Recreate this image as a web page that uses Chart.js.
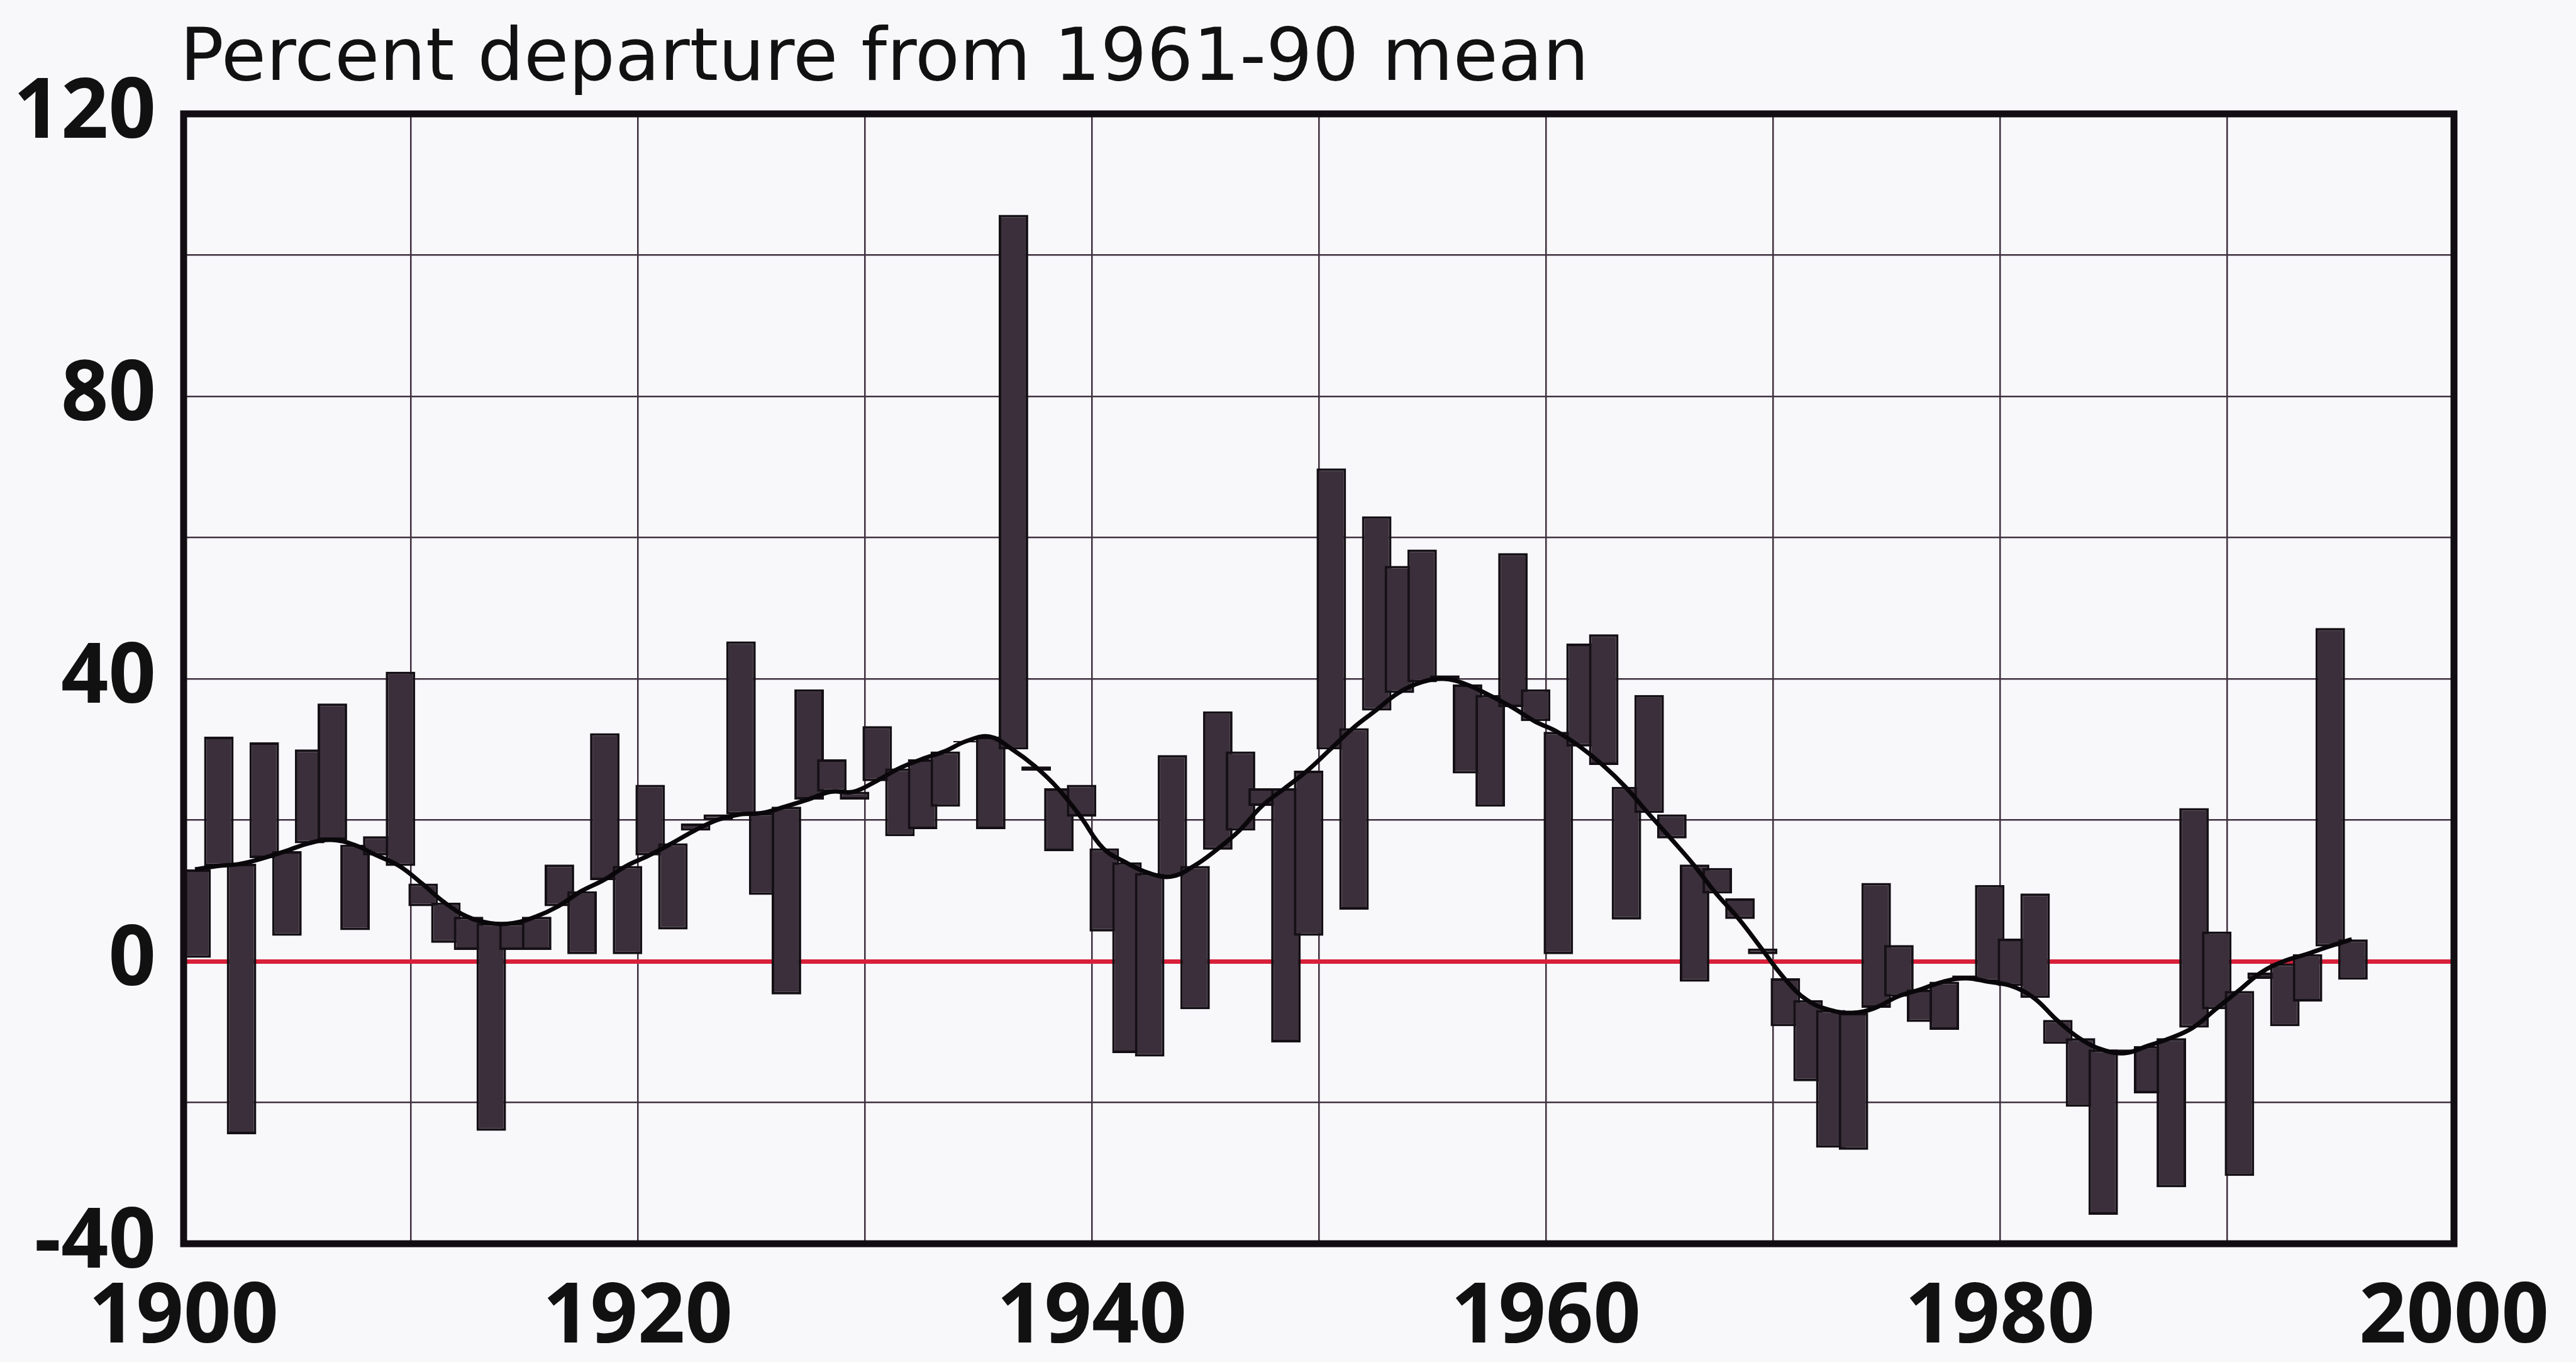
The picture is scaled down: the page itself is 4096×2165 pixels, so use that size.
<!DOCTYPE html>
<html>
<head>
<meta charset="utf-8">
<script src="https://cdn.jsdelivr.net/npm/chart.js@4.4.1/dist/chart.umd.min.js"></script>
<style>
  html, body { margin: 0; padding: 0; background: #f8f8fb; }
  canvas { display: block; }
</style>
</head>
<body>
<canvas id="myChart" width="4096" height="2165"></canvas>
<script>
// years 1900-1995
var years = [
  1900, 1901, 1902, 1903, 1904, 1905, 1906, 1907, 1908, 1909,
  1910, 1911, 1912, 1913, 1914, 1915, 1916, 1917, 1918, 1919,
  1920, 1921, 1922, 1923, 1924, 1925, 1926, 1927, 1928, 1929,
  1930, 1931, 1932, 1933, 1934, 1935, 1936, 1937, 1938, 1939,
  1940, 1941, 1942, 1943, 1944, 1945, 1946, 1947, 1948, 1949,
  1950, 1951, 1952, 1953, 1954, 1955, 1956, 1957, 1958, 1959,
  1960, 1961, 1962, 1963, 1964, 1965, 1966, 1967, 1968, 1969,
  1970, 1971, 1972, 1973, 1974, 1975, 1976, 1977, 1978, 1979,
  1980, 1981, 1982, 1983, 1984, 1985, 1986, 1987, 1988, 1989,
  1990, 1991, 1992, 1993, 1994, 1995
];

// yearly percent departure
var annual = [
  0.5, 31.8, -24.5, 31, 3.6, 30, 36.5, 4.4, 17.7, 41,
  7.8, 2.6, 1.6, -24, 1.6, 1.6, 13.7, 1, 32.3, 1,
  25, 4.5, 19.5, 20.8, 45.3, 9.4, -4.7, 38.5, 28.6, 22.9,
  33.3, 17.7, 18.7, 21.9, 31, 18.7, 105.7, 27, 15.6, 25,
  4.2, -13, -13.5, 29.2, -6.8, 35.4, 29.7, 24.5, -11.5, 3.6,
  69.8, 7.3, 63, 56, 58.3, 40.5, 26.6, 21.9, 57.8, 38.5,
  1, 45, 46.3, 5.9, 37.7, 20.8, -2.9, 13.2, 8.9, 1,
  -9.2, -17, -26.4, -26.7, 11.1, 2.3, -8.6, -9.7, -2, 10.8,
  3.2, 9.6, -11.7, -20.6, -35.9, -12.5, -18.7, -32, 21.7, 4.2,
  -30.4, -2.5, -9.2, -5.7, 47.2, -2.6
];

// smoothed curve
var smooth = [
  13, 13.5, 13.8, 14.6, 15.6, 16.7, 17.2, 16.5, 15, 13.5,
  11, 8.3, 6.3, 5.4, 5.4, 6.3, 7.8, 9.9, 11.5, 13.5,
  15, 16.7, 18.5, 20, 20.8, 21, 21.9, 22.9, 24, 24,
  25.5, 27.3, 28.6, 29.7, 31.2, 31.8, 30, 27.6, 24.5, 20.5,
  16, 14, 12.5, 12, 13.5, 15.8, 18.5, 22, 24.5, 27,
  30, 33, 35.5, 38, 39.5, 40, 39.2, 37.7, 36, 34,
  32.5, 30.4, 27.8, 24.7, 21, 17.4, 13.7, 9.6, 6, 1.8,
  -2.4, -5.5, -6.9, -7.3, -6.6, -5, -4, -2.9, -2.4, -2.9,
  -3.5, -5.2, -8.3, -10.9, -12.5, -13, -12, -10.9, -9.4, -6.8,
  -4.2, -1.6, 0, 1, 2.1, 3.1
];

var xTickLabels = [1900, 1920, 1940, 1960, 1980, 2000];
var yTickLabels = [-40, 0, 40, 80, 120];
var titleText = 'Percent departure from 1961-90 mean';

var barData = years.map(function (yr, i) {
  return { x: yr + 0.55, y: [smooth[i], annual[i]] };
});
var lineData = years.map(function (yr, i) {
  return { x: yr + 0.5, y: smooth[i] };
});

var gridColor = '#3e2f3e';

// title + frame around plot
var extras = {
  id: 'extras',
  afterDraw: function (chart) {
    var c = chart.ctx, a = chart.chartArea;
    c.save();
    c.strokeStyle = '#120d12';
    c.lineWidth = 11;
    c.strokeRect(a.left, a.top, a.right - a.left, a.bottom - a.top);
    c.fillStyle = '#111';
    c.font = '116px "DejaVu Sans"';
    c.textBaseline = 'alphabetic';
    c.fillText(titleText, 286, 127);
    c.restore();
  }
};

var ctx = document.getElementById('myChart').getContext('2d');
var myChart = new Chart(ctx, {
  type: 'bar',
  data: {
    datasets: [{
      type: 'line',
      data: lineData,
      borderColor: '#0a070a',
      borderWidth: 7,
      pointRadius: 0,
      tension: 0.4,
      order: 0
    }, {
      type: 'bar',
      data: barData,
      backgroundColor: '#3a2f3b',
      borderColor: '#151015',
      borderWidth: 4,
      borderSkipped: false,
      barPercentage: 1.3,
      categoryPercentage: 1,
      order: 1
    }]
  },
  plugins: [extras],
  options: {
    responsive: false,
    animation: false,
    layout: { padding: { top: 181, right: 194, left: 0, bottom: 0 } },
    plugins: {
      legend: { display: false },
      tooltip: { enabled: false }
    },
    scales: {
      x: {
        type: 'linear',
        min: 1900,
        max: 2000,
        offset: false,
        afterFit: function (s) { s.height = 188; },
        grid: {
          offset: false,
          drawTicks: false,
          color: gridColor,
          lineWidth: 2.5
        },
        border: { display: false },
        ticks: {
          stepSize: 10,
          padding: 40,
          color: '#111',
          font: { family: 'Noto Sans', size: 132, weight: 'bold' },
          maxRotation: 0,
          autoSkip: false,
          callback: function (v) { return xTickLabels.indexOf(v) >= 0 ? String(v) : ''; }
        }
      },
      y: {
        min: -40,
        max: 120,
        afterFit: function (s) { s.width = 292; },
        grid: {
          drawTicks: false,
          color: function (c) { return c.tick && c.tick.value === 0 ? '#d8203a' : gridColor; },
          lineWidth: function (c) { return c.tick && c.tick.value === 0 ? 7 : 2.5; }
        },
        border: { display: false },
        ticks: {
          stepSize: 20,
          padding: 44,
          color: '#111',
          font: { family: 'Noto Sans', size: 132, weight: 'bold' },
          callback: function (v) { return yTickLabels.indexOf(v) >= 0 ? String(v) : ''; }
        }
      }
    }
  }
});
</script>
</body>
</html>
